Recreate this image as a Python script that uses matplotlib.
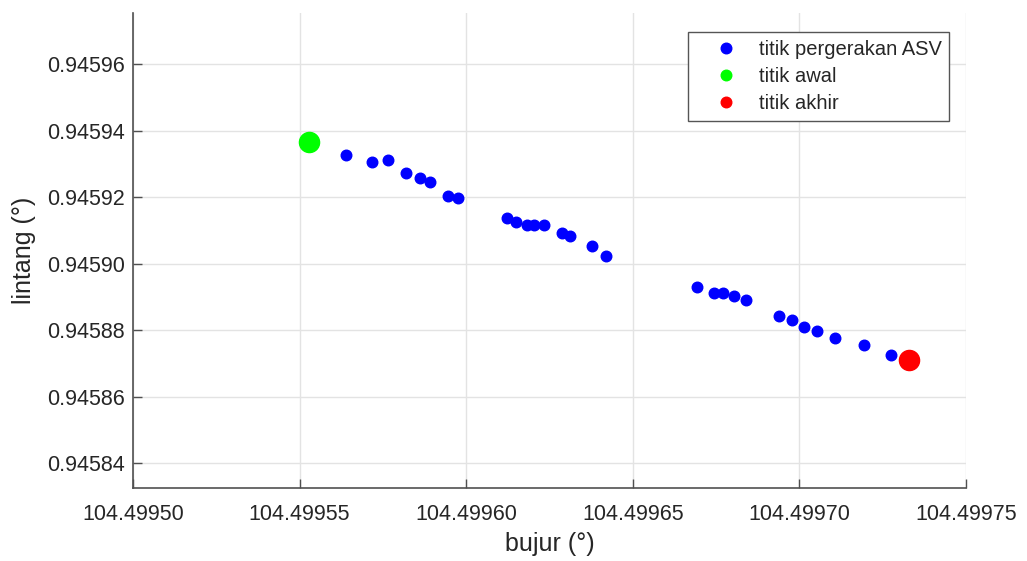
import numpy as np
import matplotlib
matplotlib.use("Agg")
import matplotlib.pyplot as plt

plt.rcParams['font.family'] = ['Liberation Sans', 'DejaVu Sans']

# titik pergerakan ASV (bujur, lintang)
bujur = [104.4995638, 104.4995718, 104.4995766, 104.4995820, 104.4995861,
         104.4995892, 104.4995946, 104.4995974, 104.4996122, 104.4996149,
         104.4996183, 104.4996203, 104.4996234, 104.4996287, 104.4996313,
         104.4996377, 104.4996419, 104.4996692, 104.4996744, 104.4996772,
         104.4996804, 104.4996840, 104.4996938, 104.4996979, 104.4997015,
         104.4997054, 104.4997108, 104.4997194, 104.4997275]
lintang = [0.9459325, 0.9459305, 0.9459311, 0.9459271, 0.9459257,
           0.9459244, 0.9459204, 0.9459197, 0.9459136, 0.9459126,
           0.9459116, 0.9459116, 0.9459117, 0.9459091, 0.9459083,
           0.9459052, 0.9459024, 0.9458930, 0.9458911, 0.9458912,
           0.9458904, 0.9458890, 0.9458844, 0.9458831, 0.9458810,
           0.9458797, 0.9458777, 0.9458756, 0.9458724]

awal = (104.4995529, 0.9459364)
akhir = (104.4997329, 0.9458710)

xticks = [104.4995, 104.49955, 104.4996, 104.49965, 104.4997, 104.49975]
yticks = [0.94584, 0.94586, 0.94588, 0.94590, 0.94592, 0.94594, 0.94596]

txt = '#262626'
axc = '#505050'

fig = plt.figure(figsize=(10.27, 5.61), dpi=100)
ax = fig.add_axes([0.1295, 0.1296, 0.8111, 0.8472])

ax.plot(bujur, lintang, 'o', color='#0000ff', markersize=7.6, label='titik pergerakan ASV', zorder=3)
ax.plot(awal[0], awal[1], 'o', color='#00ff00', markersize=14.5, label='titik awal', zorder=3)
ax.plot(akhir[0], akhir[1], 'o', color='#ff0000', markersize=14.5, label='titik akhir', zorder=3)

ax.set_xlim(104.4995, 104.49975)
ax.set_ylim(0.9458325, 0.9459753)
ax.set_xticks(xticks)
ax.set_yticks(yticks)
ax.set_xticklabels(['%.5f' % v for v in xticks])
ax.set_yticklabels(['%.5f' % v for v in yticks])

ax.grid(True, color='#e3e3e3', linewidth=1.0, zorder=0)
ax.set_axisbelow(True)
for s in ['top', 'right']:
    ax.spines[s].set_visible(False)
for s in ['left', 'bottom']:
    ax.spines[s].set_color(axc)
    ax.spines[s].set_linewidth(1.2)

ax.tick_params(axis='both', direction='in', length=6.5, width=1.0, color=axc,
               labelsize=15.5, labelcolor=txt)
ax.tick_params(axis='x', pad=11)
ax.tick_params(axis='y', pad=6)

ax.set_xlabel('bujur (°)', fontsize=18, color=txt, labelpad=5)
ax.set_ylabel('lintang (°)', fontsize=18, color=txt, labelpad=8)

leg = ax.legend(loc='upper right', bbox_to_anchor=(0.980, 0.9594), fontsize=14.5,
                frameon=True, fancybox=False, framealpha=1, edgecolor='#555555',
                borderpad=0.38, labelspacing=0.4, handletextpad=0.15, handlelength=3.0,
                borderaxespad=0)
leg.get_frame().set_linewidth(1.0)
for h in leg.legend_handles:
    h.set_markersize(7.6)
for t in leg.get_texts():
    t.set_color(txt)

fig.savefig('out.png', dpi=100)
